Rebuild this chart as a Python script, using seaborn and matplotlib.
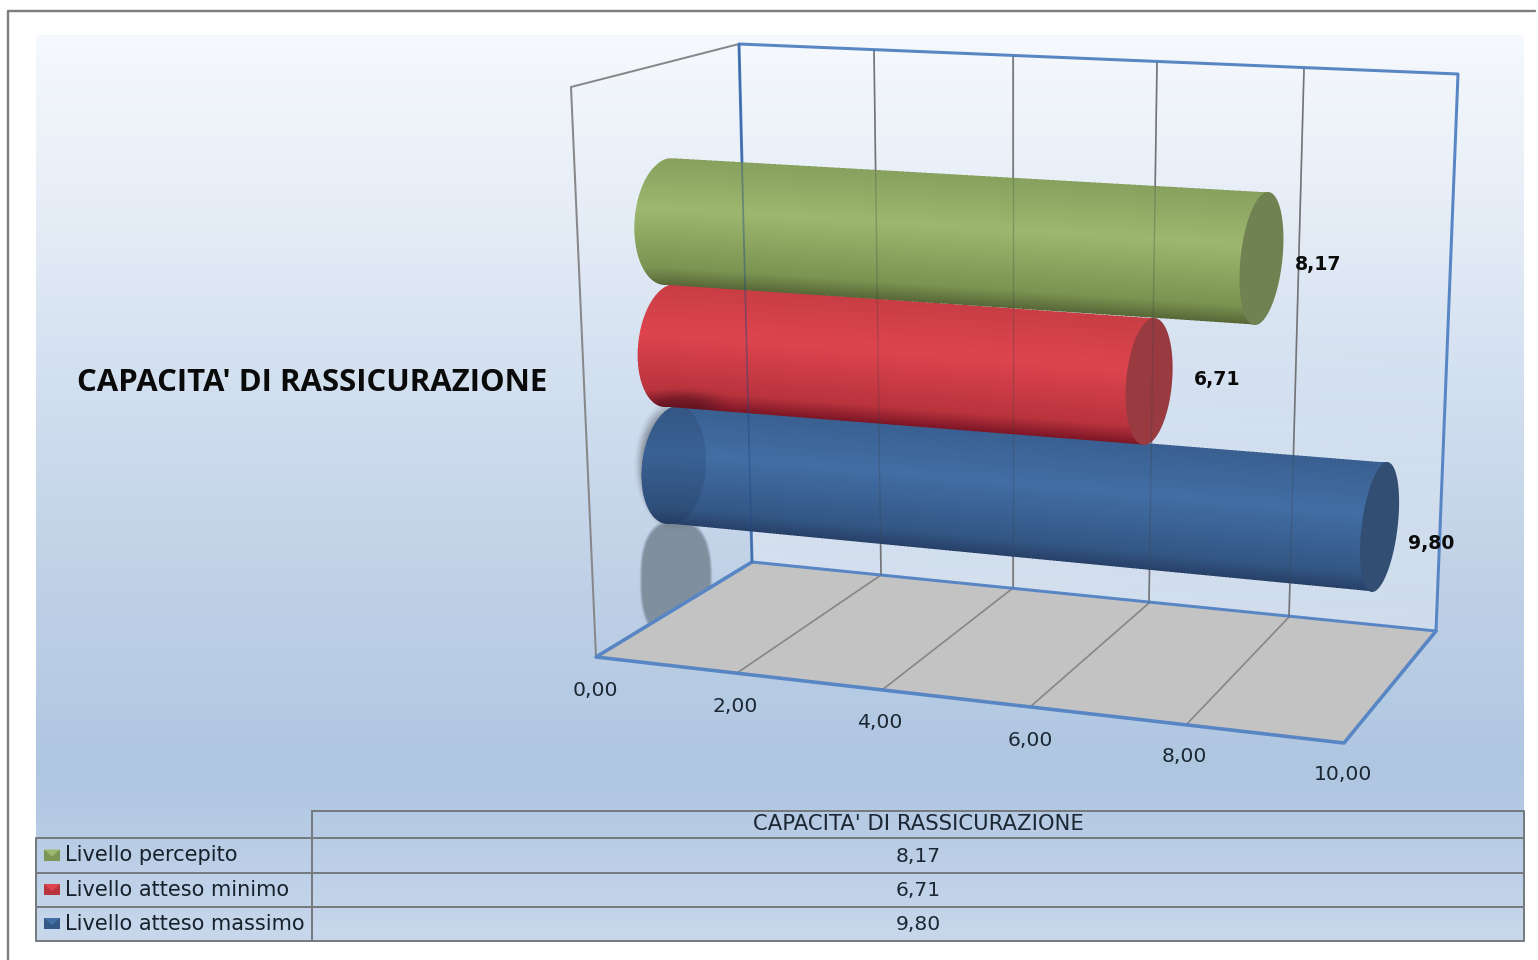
import numpy as np
import matplotlib
matplotlib.use("Agg")
import matplotlib.pyplot as plt
from matplotlib.colors import LinearSegmentedColormap
from matplotlib.patches import Polygon
from matplotlib.transforms import Affine2D
import seaborn as sns

# Values
series_names = ["Livello percepito", "Livello atteso minimo", "Livello atteso massimo"]
series_values = [8.17, 6.71, 9.80]
table_title = "CAPACITA' DI RASSICURAZIONE"
tick_values = [0, 2, 4, 6, 8, 10]


def it(v):
    return f"{v:.2f}".replace(".", ",")


sns.set_theme(style="white")
W, H = 1538, 960
fig = plt.figure(figsize=(W / 100, H / 100), dpi=100, facecolor="white")


def layer(z):
    a = fig.add_axes([0, 0, 1, 1], zorder=z)
    a.patch.set_alpha(0)
    return a


bg, barax, ax = layer(0), layer(1), layer(2)
UI = "Open Sans"
NUM = "DejaVu Sans"
px = 0.72  # one pixel expressed in points

# Projection of the 3D box, pixel positions per axis tick
front = np.array([[596, 657], [737, 673], [882, 690], [1030, 707], [1186, 725], [1344, 743]], float)
back = np.array([[752, 562], [881, 575], [1013, 588], [1149, 603], [1289, 617], [1436, 631]], float)
top = np.array([[739, 44], [874, 50], [1013, 56], [1157, 63], [1304, 69], [1458, 74]], float)
left_wall_top = (571, 87)
tick_label_pos = [(595, 690), (735, 706), (880, 723), (1030, 740), (1184, 757), (1343, 775)]

# Cylinder geometry per series: left-cap centre, step per unit, radii
tracks = [
    dict(L=(668.5, 221.5), u=(72.58, 4.53), bL=63.5, bR=66.5, aL=34, aR=21, sL=3.5, sR=6.5, lab=(57, 5.5),
         stops=[(136, 161, 95), (157, 183, 110), (124, 149, 83), (88, 104, 56)], cap=(112, 130, 82)),
    dict(L=(670, 345.5), u=(71.4, 5.37), bL=61.5, bR=63.5, aL=32, aR=23, sL=5, sR=5, lab=(68, -2.5),
         stops=[(200, 62, 68), (222, 68, 78), (186, 52, 62), (125, 22, 38)], cap=(152, 58, 64)),
    dict(L=(674, 464.5), u=(72.0, 6.38), bL=59.5, bR=65, aL=32, aR=18, sL=6, sR=7.5, lab=(52, 16),
         stops=[(58, 96, 145), (66, 110, 165), (52, 88, 134), (40, 65, 105)], cap=(50, 78, 115)),
]


def rgb(c):
    return tuple(v / 255 for v in c)


def raster(axis, box, shade, z):
    """Paint an antialiased RGBA patch over a pixel box; shade(X, Y) gives colour and coverage."""
    x0, x1, y0, y1 = box
    ss = 3
    xs = (np.arange((x1 - x0) * ss) + 0.5) / ss + x0
    ys = (np.arange((y1 - y0) * ss) + 0.5) / ss + y0
    X, Y = np.meshgrid(xs, ys)
    col, cov = shade(X, Y)
    rgba = np.dstack([col * cov[..., None], cov])
    h, w = rgba.shape[:2]
    rgba = rgba.reshape(h // ss, ss, w // ss, ss, 4).mean(axis=(1, 3))
    alpha = rgba[..., 3:]
    rgba[..., :3] = np.divide(rgba[..., :3], alpha, out=np.zeros_like(rgba[..., :3]), where=alpha > 0)
    axis.imshow(rgba, extent=(x0, x1, y1, y0), aspect="auto", interpolation="nearest", zorder=z)


def soft_blob(axis, c, a, b, color, strength, z, power=2.0, edge=0.12, mask=None):
    cx, cy = c
    color = np.array(rgb(color))

    def shade(X, Y):
        d = (np.abs((X - cx) / a) ** power + np.abs((Y - cy) / b) ** power) ** (1 / power)
        cov = np.clip((1 - d) / edge, 0, 1)
        cov = cov * cov * (3 - 2 * cov) * strength
        if mask is not None:
            cov = cov * mask(X, Y)
        return np.broadcast_to(color, X.shape + (3,)), cov

    raster(axis, (int(cx - a - 2), int(cx + a + 3), int(cy - b - 2), int(cy + b + 3)), shade, z)


# Panel gradient
ys = np.array([35, 200, 400, 600, 770, 811, 941]) / 1.0
cs = np.array([(246, 249, 253), (231, 238, 247), (208, 222, 239), (190, 208, 230),
               (175, 198, 225), (180, 201, 227), (200, 216, 236)]) / 255
yy = np.arange(35, 942)
grad = np.stack([np.interp(yy, ys, cs[:, k]) for k in range(3)], axis=1)[:, None, :]
bg.imshow(grad, extent=(36, 1524, 941, 35), aspect="auto", interpolation="bilinear", zorder=0)


def line(axis, pts, color, lw, alpha=1.0, z=5):
    pts = np.asarray(pts, float)
    sns.lineplot(x=pts[:, 0], y=pts[:, 1], sort=False, estimator=None, color=color,
                 linewidth=lw * px, alpha=alpha, zorder=z, ax=axis, legend=False)


# Reflective glow on the back wall, growing towards the floor
for k in range(40):
    t0, t1 = k / 40, (k + 1) / 40
    w = 0.32 * max(0, (t0 - 0.45) / 0.55)
    q = [np.array(top[0]) + (back[0] - top[0]) * t0, np.array(top[-1]) + (back[-1] - top[-1]) * t0,
         np.array(top[-1]) + (back[-1] - top[-1]) * t1, np.array(top[0]) + (back[0] - top[0]) * t1]
    bg.add_patch(Polygon(q, closed=True, fc="white", ec="none", alpha=w, zorder=1))

# Floor
bg.add_patch(Polygon([front[0], back[0], back[-1], front[-1]], closed=True, fc=rgb((195, 195, 195)),
                     ec="none", zorder=2))

GREY = rgb((135, 135, 138))
BLUE = rgb((88, 134, 196))
for i in range(1, 5):
    line(bg, [top[i], back[i], front[i]], GREY, 1.7, z=3)

line(bg, [top[0], left_wall_top, front[0]], GREY, 2.0, z=3)


# Cast shadow under the first cylinder, stopping at the floor edge
def above_floor_edge(X, Y):
    edge_y = front[0][1] + (X - front[0][0]) * (back[0][1] - front[0][1]) / (back[0][0] - front[0][0])
    return np.clip(edge_y - Y, 0, 1)


soft_blob(bg, (676, 580), 37, 62, (125, 140, 155), 0.95, 3.2, power=2.6, edge=0.1, mask=above_floor_edge)

line(bg, [back[0], top[0], top[-1], back[-1], back[0]], BLUE, 3.0, z=4)
line(bg, [back[0], front[0], front[-1], back[-1]], BLUE, 3.6, z=4)

# Soft halo around the left end of the lower cylinder
soft_blob(bg, (675, 465), 42, 69, (95, 100, 110), 0.7, 3.5, edge=0.32)

# Flat bars from the values; each is projected along its cylinder track and shaded below
sns.barplot(x=series_values, y=series_names, hue=series_names, orient="h", width=0.8, dodge=False,
            palette=[rgb(t["stops"][1]) for t in tracks], legend=False, ax=barax)
for bar, tr in zip(barax.patches, tracks):
    mid = bar.get_y() + bar.get_height() / 2
    sy = tr["bL"] * 0.9 / 0.4
    aff = Affine2D.from_values(tr["u"][0], tr["u"][1], 0, sy, tr["L"][0], tr["L"][1] - mid * sy)
    bar.set_transform(aff + ax.transData)
    bar.set_clip_on(False)

# Shaded cylinder bodies, rear ones first
for idx in [2, 1, 0]:
    tr, val = tracks[idx], barax.patches[idx].get_width()
    Lx, Ly = tr["L"]
    Rx, Ry = Lx + val * tr["u"][0], Ly + val * tr["u"][1]
    stops = [rgb(c) for c in tr["stops"]]
    ramp = sns.blend_palette(stops[:2], 40) + sns.blend_palette(stops[1:3], 45) + sns.blend_palette(stops[2:], 15)
    cmap = LinearSegmentedColormap.from_list("body", ramp)
    base = 2 + (2 - idx) * 3

    def shade_body(X, Y, Lx=Lx, Ly=Ly, Rx=Rx, Ry=Ry, tr=tr, cmap=cmap):
        t = np.clip((X - Lx) / (Rx - Lx), 0, 1)
        s = (Y - (Ly + t * (Ry - Ly))) / (tr["bL"] + t * (tr["bR"] - tr["bL"]))
        inside = np.abs(s) <= 1
        clipped = np.clip(s, -1, 1)
        left = Lx - tr["sL"] * clipped - tr["aL"] * np.sqrt(1 - clipped ** 2)
        right = Rx - tr["sR"] * clipped
        cov = (inside & (X >= left) & (X <= right)).astype(float)
        return cmap((clipped + 1) / 2)[..., :3], cov

    box = (int(Lx - tr["aL"] - 12), int(Rx + 12), int(Ly - tr["bL"] - 6), int(Ry + tr["bR"] + 6))
    raster(ax, box, shade_body, base)

    def lpt(s):
        return (Lx - tr["sL"] * s - tr["aL"] * np.sqrt(max(0, 1 - s * s)), Ly + tr["bL"] * s)

    # Darker inner band at the open end of the lower cylinder
    if idx == 2:
        dark = [lpt(s) for s in np.linspace(-1, 1, 60)] + \
               [(Lx + 32 * np.sqrt(max(0, 1 - s * s)) - 2 * s, Ly + tr["bL"] * s)
                for s in np.linspace(1, -1, 60)]
        ax.add_patch(Polygon(dark, closed=True, fc=rgb((25, 45, 75)), ec="none", alpha=0.18, zorder=base + 0.5))
    # Shadow falling from the upper cylinder's end onto the one below
    if idx == 1:
        soft_blob(ax, (Lx + 14, Ly + tr["bL"] - 2), 52, 20, (60, 15, 25), 0.38, base + 0.5, edge=0.8,
                  mask=lambda X, Y, s=shade_body: s(X, Y)[1])

    # Flat end cap
    tt = np.linspace(0, 2 * np.pi, 120)
    cap = np.c_[Rx + tr["aR"] * np.cos(tt) - tr["sR"] * np.sin(tt), Ry + tr["bR"] * np.sin(tt)]
    ax.add_patch(Polygon(cap, closed=True, fc=rgb(tr["cap"]), ec="none", zorder=base + 1))

    ax.text(Rx + tr["lab"][0], Ry + tr["lab"][1], it(val), ha="center", va="center", fontsize=13.6,
            fontweight="bold", family=NUM, color="#0b0b0b", zorder=20)

# Grid lines showing faintly through the translucent cylinders
for i in range(1, 5):
    line(ax, [top[i], back[i]], rgb((60, 65, 70)), 1.4, alpha=0.28, z=15)
line(ax, [top[0], back[0]], rgb((30, 70, 130)), 1.8, alpha=0.4, z=15)

# Value axis labels
for v, pos in zip(tick_values, tick_label_pos):
    ax.text(pos[0], pos[1], it(v), ha="center", va="center", fontsize=14.6, family=NUM,
            color="#1b2733", zorder=20)

ax.text(312, 383, table_title, ha="center", va="center", fontsize=22.4, fontweight="bold",
        family=UI, color="#0a0a0a", zorder=20)

# Data table
TBL = rgb((118, 123, 128))
row_edges = [838, 873, 907, 941]
line(ax, [(312, 811), (1524, 811), (1524, 941), (36, 941), (36, 838), (1524, 838)], TBL, 2.0, z=18)
line(ax, [(312, 811), (312, 941)], TBL, 2.0, z=18)
for y in row_edges[1:3]:
    line(ax, [(36, y), (1524, y)], TBL, 2.0, z=18)

ax.text(918, 824.5, table_title, ha="center", va="center", fontsize=15.2, family=NUM, color="#1b2733", zorder=20)
for i, (name, val, tr) in enumerate(zip(series_names, series_values, tracks)):
    yc = (row_edges[i] + row_edges[i + 1]) / 2
    ax.text(65, yc - 0.5, name, ha="left", va="center", fontsize=15.0, family=NUM, color="#17212b", zorder=20)
    ax.text(918, yc + 0.5, it(val), ha="center", va="center", fontsize=14.6, family=NUM, color="#1b2733", zorder=20)
    x0, x1, y0, y1 = 44, 60, yc - 6, yc + 5
    ax.add_patch(Polygon([(x0, y0), (x1, y0), (x1, y1), (x0, y1)], closed=True, fc=rgb(tr["stops"][2]), ec="none", zorder=19))
    ax.add_patch(Polygon([(x0, y0), (x1, y0), ((x0 + x1) / 2, y0 + 7)], closed=True, fc=rgb(tr["stops"][1]), ec="none", zorder=19))

# Outer frame
line(ax, [(7.5, 960), (7.5, 10.5), (1535, 10.5)], rgb((125, 125, 125)), 2.4, z=25)

for a in (bg, barax, ax):
    a.set_xlim(0, W)
    a.set_ylim(H, 0)
    a.axis("off")

fig.savefig("out.png", dpi=100, facecolor="white")
